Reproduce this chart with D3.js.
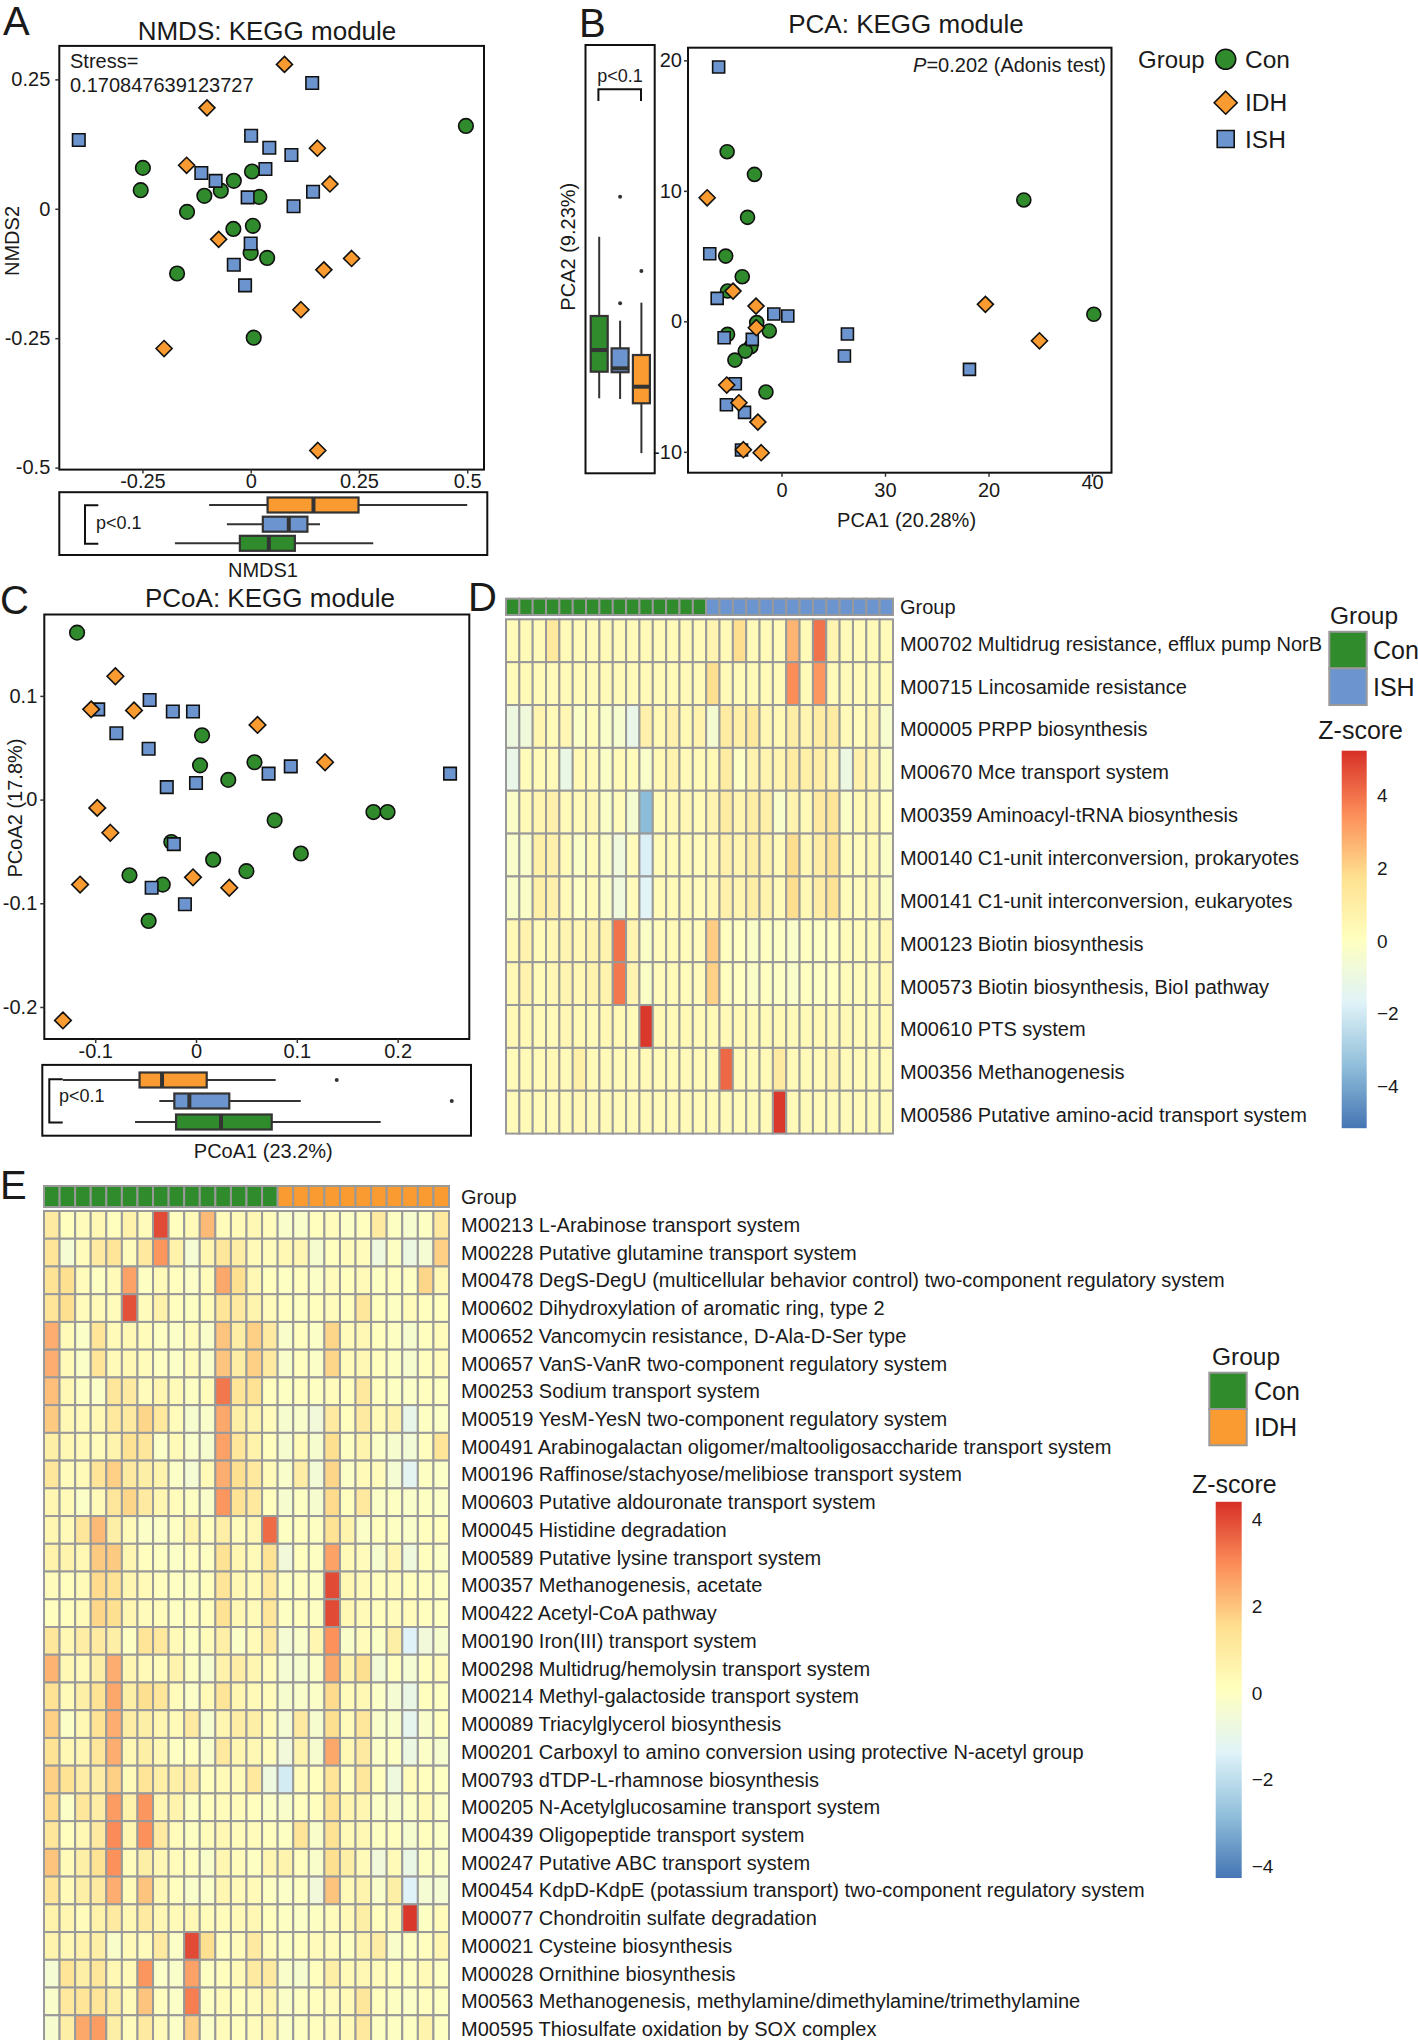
<!DOCTYPE html>
<html><head><meta charset="utf-8">
<script src="https://cdn.jsdelivr.net/npm/d3@7"></script>
<style>html,body{margin:0;padding:0;background:#fff;}svg{display:block;}</style>
</head><body>
<svg id="fig" width="1418" height="2040" xmlns="http://www.w3.org/2000/svg"></svg>
<script>
// ======================= DATA =======================
// Panel A: NMDS [NMDS1, NMDS2]
const nmdsCon = [[0.497,0.160],[-0.249,0.079],[-0.254,0.036],[0.003,0.072],[-0.039,0.054],[-0.069,0.035],[-0.107,0.025],[0.020,0.023],[-0.147,-0.006],[-0.040,-0.039],[0.005,-0.033],[0.000,-0.085],[0.038,-0.095],[-0.170,-0.125],[0.007,-0.249]];
const nmdsISH = [[0.142,0.243],[-0.397,0.133],[0.001,0.141],[0.043,0.118],[0.094,0.104],[0.034,0.077],[-0.114,0.069],[-0.081,0.054],[-0.007,0.022],[0.144,0.033],[0.099,0.005],[0.000,-0.067],[-0.039,-0.108],[-0.013,-0.148]];
const nmdsIDH = [[0.078,0.279],[-0.101,0.195],[0.154,0.117],[-0.148,0.084],[0.183,0.048],[-0.074,-0.059],[0.233,-0.096],[0.169,-0.118],[0.116,-0.195],[-0.200,-0.270],[0.155,-0.467]];
// box stats: [lower whisker, q1, median, q3, upper whisker]
const nmdsBoxIDH = [-0.096,0.039,0.145,0.249,0.500];
const nmdsBoxISH = [-0.055,0.028,0.088,0.131,0.160];
const nmdsBoxCon = [-0.175,-0.025,0.042,0.102,0.283];
const nmdsXTicks = [-0.25,0,0.25,0.5];
const nmdsXTickLabels = ["-0.25","0","0.25","0.5"];
const nmdsYTicks = [0.25,0,-0.25,-0.5];
const nmdsYTickLabels = ["0.25","0","-0.25","-0.5"];
const nmdsStress = "0.170847639123727";

// Panel B: PCA [PCA1, PCA2]
const pcaCon = [[-5.25,13.0],[-2.61,11.26],[-3.28,7.97],[-5.39,5.0],[-3.79,3.42],[-5.21,2.32],[-2.39,-0.1],[-1.18,-0.74],[-5.21,-1.0],[-2.96,-1.94],[-3.50,-2.28],[-4.50,-2.97],[-1.50,-5.42],[23.41,9.3],[30.17,0.54]];
const pcaISH = [[-6.07,19.49],[-6.93,5.18],[-6.21,1.76],[-0.74,0.56],[0.61,0.41],[-5.54,-1.26],[-2.82,-1.38],[6.37,-0.97],[6.08,-2.66],[18.16,-3.68],[-4.46,-4.78],[-5.32,-6.39],[-3.57,-6.98],[-3.86,-9.86]];
const pcaIDH = [[-7.18,9.47],[-4.68,2.32],[-2.46,1.17],[-2.43,-0.49],[19.70,1.3],[24.92,-1.49],[-5.29,-4.88],[-4.11,-6.24],[-2.28,-7.72],[-3.68,-9.84],[-1.96,-10.07]];
const pcaBoxCon = [-5.9,-3.86,-2.2,0.41,6.48];
const pcaBoxISH = [-5.95,-3.9,-3.6,-2.07,0.05];
const pcaBoxIDH = [-10.1,-6.28,-5.01,-2.58,1.43];
const pcaOutISH = [9.55,1.38];
const pcaOutIDH = [3.85];
const pcaXTicks = [0,10,20,30];
const pcaXTickLabels = ["0","30","20","40"];
const pcaYTicks = [20,10,0,-10];
const pcaYTickLabels = ["20","10","0","-10"];

// Panel C: PCoA [PCoA1, PCoA2]
const pcoaCon = [[-0.118,0.161],[0.006,0.062],[0.004,0.033],[0.058,0.036],[0.032,0.019],[0.078,-0.020],[0.176,-0.012],[0.190,-0.012],[-0.0245,-0.041],[0.017,-0.058],[0.104,-0.052],[0.050,-0.069],[-0.066,-0.073],[-0.033,-0.082],[-0.047,-0.117]];
const pcoaISH = [[-0.097,0.087],[-0.046,0.096],[-0.023,0.085],[-0.003,0.085],[-0.079,0.064],[-0.047,0.049],[0.072,0.025],[0.094,0.032],[0.252,0.025],[-0.029,0.012],[0.000,0.016],[-0.022,-0.043],[-0.044,-0.085],[-0.011,-0.101]];
const pcoaIDH = [[-0.080,0.119],[-0.104,0.087],[-0.0615,0.086],[0.061,0.072],[0.128,0.036],[-0.098,-0.008],[-0.085,-0.032],[-0.003,-0.075],[0.033,-0.085],[-0.115,-0.082],[-0.132,-0.213]];
const pcoaBoxIDH = [-0.132,-0.056,-0.0337,0.0106,0.079];
const pcoaBoxISH = [-0.0364,-0.0215,-0.0066,0.033,0.1039];
const pcoaBoxCon = [-0.0605,-0.0198,0.0248,0.0751,0.1832];
const pcoaOutIDH = [0.1396];
const pcoaOutISH = [0.2537];
const pcoaXTicks = [-0.1,0,0.1,0.2];
const pcoaXTickLabels = ["-0.1","0","0.1","0.2"];
const pcoaYTicks = [0.1,0,-0.1,-0.2];
const pcoaYTickLabels = ["0.1","0","-0.1","-0.2"];

// Panel D heatmap (Con vs ISH)
const dRows = ["M00702 Multidrug resistance, efflux pump NorB","M00715 Lincosamide resistance","M00005 PRPP biosynthesis","M00670 Mce transport system","M00359 Aminoacyl-tRNA biosynthesis","M00140 C1-unit interconversion, prokaryotes","M00141 C1-unit interconversion, eukaryotes","M00123 Biotin biosynthesis","M00573 Biotin biosynthesis, BioI pathway","M00610 PTS system","M00356 Methanogenesis","M00586 Putative amino-acid transport system"];
const dGroups = ["Con","Con","Con","Con","Con","Con","Con","Con","Con","Con","Con","Con","Con","Con","Con","ISH","ISH","ISH","ISH","ISH","ISH","ISH","ISH","ISH","ISH","ISH","ISH","ISH","ISH"];
const dValues = [
[0.3,0.3,0.3,1.3,0.3,0.3,0.3,0.3,0.3,0.3,0.3,0.3,0.3,0.3,0.3,0.6,0.3,1.8,0.3,0.3,0.3,2.7,0.3,4.0,0.6,0.3,0.3,0.3,0.3],
[0.3,0.3,0.3,0.3,0.3,0.3,0.3,0.3,0.3,0.3,0.3,0.3,0.3,0.3,0.3,1.8,0.3,0.3,0.3,0.3,0.3,3.5,0.3,3.3,0.3,0.3,0.3,0.3,0.3],
[-0.9,-0.8,0.6,0.3,0.5,-0.2,0.2,-0.3,-0.4,-1.2,0.8,0.4,0.8,0.4,0.7,-0.5,1.1,0.9,1.3,0.5,0.4,1.0,0.6,1.1,1.1,0.3,0.2,0.6,-0.4],
[-1.2,0.2,0.3,0.3,-1.1,0.4,0.3,-0.2,0.3,0.2,-0.3,0.4,0.7,0.3,0.3,0.4,1.1,-0.1,0.7,0.6,0.6,1.1,0.9,1.0,0.7,-1.0,0.8,0.6,-0.2],
[-0.2,0.3,0.6,0.8,0.3,0.3,0.5,-0.2,0.2,-0.5,-3.5,0.3,0.4,0.5,0.3,0.6,1.1,0.6,1.0,0.9,-0.3,0.7,0.3,1.2,1.5,-0.2,0.4,0.5,0.0],
[-0.3,-0.3,0.9,0.8,0.3,-0.2,0.3,-0.2,-0.8,0.2,-1.8,0.3,0.3,0.3,0.2,0.5,0.8,0.6,1.0,0.7,0.3,1.8,0.4,1.0,1.6,0.2,0.2,0.4,-0.2],
[-0.3,-0.2,0.9,0.8,0.3,-0.1,0.3,-0.2,-0.8,0.2,-1.6,0.3,0.3,0.3,0.2,0.5,0.8,0.6,1.0,0.7,0.3,1.8,0.4,1.0,1.6,0.2,0.2,0.4,-0.2],
[0.4,0.7,0.3,0.5,0.6,0.5,0.7,0.7,4.0,0.6,-0.2,0.2,0.3,0.2,0.2,2.2,0.1,0.0,-0.2,0.0,-0.1,-0.3,0.0,-0.1,0.0,0.2,0.2,0.2,0.5],
[0.4,0.7,0.3,0.5,0.6,0.5,0.7,0.7,3.9,0.6,-0.2,0.2,0.3,0.2,0.2,2.1,0.1,0.0,-0.2,0.0,-0.1,-0.3,0.0,-0.1,0.0,0.2,0.2,0.2,0.5],
[0.4,0.4,0.3,0.3,0.5,0.4,0.3,0.4,0.4,0.3,5.1,0.4,0.3,0.4,0.3,0.4,0.3,0.4,0.3,0.3,0.4,0.3,0.3,0.4,0.3,0.4,0.3,0.3,0.4],
[0.3,0.3,0.3,0.4,0.3,0.9,0.3,0.3,0.3,0.3,0.3,0.3,0.3,0.3,0.3,0.3,4.2,0.3,0.3,0.3,1.2,0.3,0.3,0.3,0.6,0.3,0.3,0.3,0.3],
[0.3,0.3,0.3,0.3,0.3,0.5,0.3,0.3,0.3,0.3,0.3,0.3,0.3,0.3,0.3,0.3,0.3,0.3,0.3,0.3,5.1,0.3,0.3,0.3,0.3,0.3,0.3,0.3,0.3]
];
const dScaleRange = [-5.15,5.24];
const dLegendTicks = [4,2,0,-2,-4];

// Panel E heatmap (Con vs IDH)
const eRows = ["M00213 L-Arabinose transport system","M00228 Putative glutamine transport system","M00478 DegS-DegU (multicellular behavior control) two-component regulatory system","M00602 Dihydroxylation of aromatic ring, type 2","M00652 Vancomycin resistance, D-Ala-D-Ser type","M00657 VanS-VanR two-component regulatory system","M00253 Sodium transport system","M00519 YesM-YesN two-component regulatory system","M00491 Arabinogalactan oligomer/maltooligosaccharide transport system","M00196 Raffinose/stachyose/melibiose transport system","M00603 Putative aldouronate transport system","M00045 Histidine degradation","M00589 Putative lysine transport system","M00357 Methanogenesis, acetate","M00422 Acetyl-CoA pathway","M00190 Iron(III) transport system","M00298 Multidrug/hemolysin transport system","M00214 Methyl-galactoside transport system","M00089 Triacylglycerol biosynthesis","M00201 Carboxyl to amino conversion using protective N-acetyl group","M00793 dTDP-L-rhamnose biosynthesis","M00205 N-Acetylglucosamine transport system","M00439 Oligopeptide transport system","M00247 Putative ABC transport system","M00454 KdpD-KdpE (potassium transport) two-component regulatory system","M00077 Chondroitin sulfate degradation","M00021 Cysteine biosynthesis","M00028 Ornithine biosynthesis","M00563 Methanogenesis, methylamine/dimethylamine/trimethylamine","M00595 Thiosulfate oxidation by SOX complex"];
const eGroups = ["Con","Con","Con","Con","Con","Con","Con","Con","Con","Con","Con","Con","Con","Con","Con","IDH","IDH","IDH","IDH","IDH","IDH","IDH","IDH","IDH","IDH","IDH"];
const eValues = [
[1.0,0.1,0.2,0.4,0.1,0.7,0.2,4.0,0.1,0.3,2.2,0.2,0.3,0.4,0.2,-0.2,-0.2,0.1,0.2,-0.1,0.1,1.0,0.0,-0.3,0.0,1.1],
[1.3,-0.4,0.2,1.0,1.3,0.2,1.1,2.8,0.7,-0.4,0.5,1.2,0.9,0.3,0.2,0.4,0.5,-0.3,0.1,0.2,0.2,-0.7,0.0,-0.8,-0.4,1.8],
[1.4,1.5,0.2,0.0,0.3,2.6,0.0,0.3,0.1,-0.1,0.2,2.5,1.5,0.4,0.1,0.0,0.1,-0.1,0.2,0.1,0.3,0.0,0.1,0.0,1.7,0.4],
[1.3,1.5,0.2,0.3,0.2,3.9,0.2,0.7,0.1,0.0,0.2,1.3,1.0,0.6,0.2,0.1,0.0,0.1,0.2,0.1,1.2,0.1,0.0,0.2,0.1,0.1],
[2.4,0.3,-0.1,1.3,0.3,0.4,0.2,0.0,-0.1,0.2,-0.2,2.0,0.9,1.8,1.0,-0.2,0.1,-0.1,1.7,0.2,0.4,0.1,0.0,-0.3,0.1,0.2],
[2.4,0.3,-0.1,1.3,0.3,0.4,0.2,0.0,-0.1,0.2,-0.2,2.0,0.9,1.8,1.0,-0.2,0.1,-0.1,1.7,0.2,0.4,0.1,0.0,-0.3,0.1,0.2],
[2.1,0.4,0.0,-0.1,1.2,1.0,0.2,0.5,0.3,0.0,0.2,3.3,1.3,1.4,0.1,0.0,0.1,0.0,0.2,0.1,1.1,0.1,0.0,-0.1,0.1,0.0],
[1.9,0.4,0.3,0.4,1.1,1.0,1.7,1.1,0.2,-0.3,-0.2,2.5,0.8,0.6,0.2,-0.3,-0.2,-0.6,1.0,0.1,1.0,0.3,0.6,-1.0,0.0,-0.1],
[0.8,0.4,0.3,0.2,0.6,1.4,1.2,-0.1,0.3,-0.2,-0.3,2.6,1.2,0.7,0.1,-0.3,0.3,-0.3,1.5,0.0,0.6,-0.1,-0.3,-0.5,0.1,1.3],
[1.2,0.2,0.3,1.3,1.8,1.0,0.8,0.6,-0.1,-0.4,0.3,2.4,1.5,1.1,0.3,-0.2,0.9,-0.5,1.7,-0.1,0.3,0.2,-0.4,-1.2,0.0,-0.1],
[0.5,0.3,-0.1,0.3,1.2,1.7,1.0,0.5,0.2,0.0,-0.2,2.8,1.4,1.1,0.1,-0.3,0.0,-0.3,1.6,0.1,1.1,-0.1,0.0,-0.2,0.0,-0.1],
[0.5,0.3,1.2,2.2,0.8,0.3,-0.1,-0.1,0.0,0.6,0.1,0.8,0.2,0.4,3.5,0.0,0.1,0.0,1.4,0.6,-0.1,0.1,0.0,-0.2,0.1,0.1],
[0.7,0.6,0.4,1.9,1.9,0.5,0.1,0.0,-0.1,0.1,0.0,1.4,0.5,0.3,1.4,-0.6,0.1,0.0,2.6,0.3,0.2,-0.3,0.5,-0.7,0.1,-0.1],
[0.2,0.1,0.3,1.6,1.4,0.5,0.3,0.1,0.0,0.0,0.1,1.3,0.4,0.3,1.1,0.0,0.1,0.0,4.0,0.4,0.3,0.1,0.2,0.1,0.1,0.0],
[0.1,0.1,0.3,1.7,1.5,0.5,0.2,0.2,0.0,0.1,0.1,1.4,0.4,0.3,1.2,0.0,0.1,0.0,4.0,0.4,0.3,0.1,0.2,0.2,0.1,0.0],
[1.2,0.4,0.9,1.0,0.8,0.0,1.3,1.1,0.3,0.0,0.2,0.8,-0.1,0.3,1.0,-0.4,-0.2,0.5,2.9,-0.2,0.2,-0.1,0.8,-1.4,-0.6,-0.3],
[2.3,0.4,0.3,0.8,2.4,0.5,0.3,0.2,0.6,0.0,-0.3,0.7,0.9,0.5,0.2,-0.4,-0.3,-0.1,2.5,0.6,1.5,-0.5,0.1,-0.4,0.1,0.2],
[1.4,0.3,0.8,1.4,2.5,0.8,1.5,1.2,0.2,-0.1,0.3,1.3,0.5,0.3,0.2,-0.3,-0.2,-0.1,1.6,0.2,0.4,-0.1,-0.4,-0.9,0.1,0.0],
[1.8,-0.1,0.4,1.4,2.4,0.9,0.8,0.5,0.3,1.0,-0.3,0.5,0.9,0.8,0.3,-0.4,1.0,-0.3,1.5,0.2,1.2,-0.2,-0.2,-1.1,-0.2,0.1],
[1.4,0.4,0.5,1.2,2.4,0.4,0.8,0.4,0.0,0.1,-0.2,1.1,0.5,0.4,0.2,-0.6,0.6,-0.3,2.5,0.4,1.0,-0.1,0.0,-0.8,-0.1,-0.3],
[1.8,1.4,0.9,0.9,1.8,0.3,1.3,0.8,0.8,0.9,0.1,0.3,0.3,1.1,-0.7,-1.6,0.2,0.1,1.3,0.1,1.2,0.1,-0.7,0.2,0.1,0.0],
[1.6,-0.1,1.2,0.9,2.7,0.7,2.8,0.5,0.6,0.0,0.1,0.2,0.2,0.1,-0.1,-0.2,0.1,0.1,1.4,0.5,0.5,-0.1,-0.2,-0.1,0.3,-0.1],
[1.2,0.1,0.4,1.0,3.0,0.5,2.9,1.0,0.2,0.0,0.2,0.4,0.2,0.2,0.1,0.0,1.3,-0.2,1.4,0.3,0.4,0.0,0.1,-0.3,0.1,-0.1],
[2.0,0.3,0.8,1.4,2.9,0.2,0.8,0.4,0.2,0.1,-0.2,0.5,0.2,0.0,0.5,0.6,0.1,-0.2,1.5,0.8,0.3,-0.6,0.3,-0.9,0.0,-0.1],
[1.3,0.3,0.8,1.0,2.4,0.3,2.0,0.4,0.1,-0.2,-0.1,0.5,0.3,0.3,0.0,-0.1,0.0,-0.6,2.0,0.3,0.6,-0.2,0.8,-1.4,-0.4,-0.4],
[0.7,0.5,0.2,0.7,1.0,0.4,1.0,0.4,0.3,0.4,0.2,0.2,0.3,0.4,0.1,0.0,-0.1,0.0,0.2,0.3,0.8,0.1,0.3,4.3,0.0,0.2],
[0.6,0.4,0.7,0.8,-0.2,0.3,0.2,1.0,-0.1,4.0,1.5,0.1,0.2,1.0,0.2,0.0,0.1,0.2,0.2,0.0,0.6,0.9,-0.2,0.0,0.1,0.5],
[-0.4,1.3,0.8,1.2,0.4,0.3,2.8,-0.1,-0.2,2.6,0.0,0.1,0.3,1.0,1.0,-0.2,-0.3,0.1,0.8,0.3,0.4,0.2,0.1,0.0,0.3,0.0],
[-0.2,1.1,1.3,1.3,0.8,0.3,2.0,0.1,-0.1,3.2,0.0,0.2,0.1,0.2,0.5,-0.1,0.0,0.1,0.2,0.3,1.2,0.1,0.0,-0.1,0.1,0.0],
[-0.3,0.8,2.5,2.7,0.8,0.2,1.0,0.3,-0.1,1.8,-0.1,0.2,0.1,0.2,0.5,-0.1,0.0,0.1,0.2,0.3,1.1,0.0,0.0,0.0,0.6,0.0]
];
const eScaleRange = [-4.26,4.41];
const eLegendTicks = [4,2,0,-2,-4];

// ======================= STYLE =======================
const FONT = "'Liberation Sans', Arial, Helvetica, sans-serif";
const INK = "#1a1a1a";
const COL = {Con:"#2F8B2C", IDH:"#F99B30", ISH:"#6C94CE"};
const RDYLBU7 = ["#4575B4","#91BFDB","#E0F3F8","#FFFFBF","#FEE090","#FC8D59","#D73027"];
const GRID = "#999999";

const svg = d3.select("#fig");
svg.append("rect").attr("width",1418).attr("height",2040).attr("fill","#fff");

function txt(g, x, y, s, o={}) {
  const t = g.append("text").attr("x",x).attr("y",y).text(s)
    .attr("font-family",FONT).attr("font-size",o.size||20).attr("fill",o.fill||INK)
    .attr("text-anchor",o.anchor||"start");
  if (o.baseline) t.attr("dominant-baseline",o.baseline);
  if (o.rotate) t.attr("transform",`rotate(${o.rotate},${x},${y})`);
  return t;
}
function shapePath(group, sz) {
  if (group==="Con") return d3.symbol(d3.symbolCircle, Math.PI*sz.r*sz.r)();
  if (group==="ISH") return d3.symbol(d3.symbolSquare, sz.s*sz.s)();
  const h = sz.d; return `M0,${-h}L${h},0L0,${h}L${-h},0Z`;
}

function scatterPanel(c) {
  const x = d3.scaleLinear().domain(c.xDomain).range([c.left,c.right]);
  const y = d3.scaleLinear().domain(c.yDomain).range([c.bottom,c.top]);
  const g = svg.append("g");
  c.series.forEach(s => {
    g.append("g").selectAll("path").data(s.data).join("path")
      .attr("d", shapePath(s.group, c.sz))
      .attr("transform", d => `translate(${x(d[0])},${y(d[1])})`)
      .attr("fill", COL[s.group]).attr("stroke","#111").attr("stroke-width",1.6);
  });
  g.append("rect").attr("x",c.left).attr("y",c.top).attr("width",c.right-c.left).attr("height",c.bottom-c.top)
    .attr("fill","none").attr("stroke","#111").attr("stroke-width",2);
  const ax = g.append("g").attr("transform",`translate(0,${c.bottom})`)
    .call(d3.axisBottom(x).tickValues(c.xTicks).tickFormat((d,i)=>c.xLabels[i]).tickSize(4).tickPadding(c.xPad));
  const ay = g.append("g").attr("transform",`translate(${c.left},0)`)
    .call(d3.axisLeft(y).tickValues(c.yTicks).tickFormat((d,i)=>c.yLabels[i]).tickSize(4).tickPadding(c.yPad));
  [ax,ay].forEach(a => {
    a.select(".domain").remove();
    a.selectAll("line").attr("stroke","#333").attr("stroke-width",1.5);
    a.selectAll("text").attr("font-family",FONT).attr("font-size",20).attr("fill",INK);
  });
  return {x,y,g,ax,ay};
}

function hBox(g, x, yc, st, color, h, outs) {
  g.append("line").attr("x1",x(st[0])).attr("x2",x(st[4])).attr("y1",yc).attr("y2",yc).attr("stroke","#333").attr("stroke-width",2);
  g.append("rect").attr("x",x(st[1])).attr("y",yc-h/2).attr("width",x(st[3])-x(st[1])).attr("height",h)
    .attr("fill",color).attr("stroke","#333").attr("stroke-width",2.2);
  g.append("line").attr("x1",x(st[2])).attr("x2",x(st[2])).attr("y1",yc-h/2).attr("y2",yc+h/2).attr("stroke","#333").attr("stroke-width",4);
  (outs||[]).forEach(v => g.append("circle").attr("cx",x(v)).attr("cy",yc).attr("r",2).attr("fill","#333"));
}
function vBox(g, y, xc, st, color, w, outs) {
  g.append("line").attr("y1",y(st[0])).attr("y2",y(st[4])).attr("x1",xc).attr("x2",xc).attr("stroke","#333").attr("stroke-width",2);
  g.append("rect").attr("y",y(st[3])).attr("x",xc-w/2).attr("height",y(st[1])-y(st[3])).attr("width",w)
    .attr("fill",color).attr("stroke","#333").attr("stroke-width",2.2);
  g.append("line").attr("y1",y(st[2])).attr("y2",y(st[2])).attr("x1",xc-w/2).attr("x2",xc+w/2).attr("stroke","#333").attr("stroke-width",4);
  (outs||[]).forEach(v => g.append("circle").attr("cy",y(v)).attr("cx",xc).attr("r",2).attr("fill","#333"));
}
function frame(g, x0, y0, x1, y1) {
  g.append("rect").attr("x",x0).attr("y",y0).attr("width",x1-x0).attr("height",y1-y0)
    .attr("fill","none").attr("stroke","#111").attr("stroke-width",2);
}
function bracket(g, d) { g.append("path").attr("d",d).attr("fill","none").attr("stroke","#111").attr("stroke-width",2); }

// ======================= PANEL A =======================
const A = scatterPanel({left:59.3,right:484,top:45.9,bottom:469.6,
  xDomain:[-0.442,0.5388], yDomain:[-0.5039,0.3147],
  xTicks:nmdsXTicks, xLabels:nmdsXTickLabels, yTicks:nmdsYTicks, yLabels:nmdsYTickLabels,
  xPad:0, yPad:5, sz:{r:7.3,s:12.5,d:8},
  series:[{group:"Con",data:nmdsCon},{group:"ISH",data:nmdsISH},{group:"IDH",data:nmdsIDH}]});
txt(A.g, 3, 35, "A", {size:40});
txt(A.g, 267, 39.5, "NMDS: KEGG module", {size:26, anchor:"middle"});
txt(A.g, 70, 60.5, "Stress=", {size:20, baseline:"central"});
txt(A.g, 70, 85, nmdsStress, {size:20, baseline:"central"});
txt(A.g, 12, 241, "NMDS2", {size:20, anchor:"middle", baseline:"central", rotate:-90});
{
  const g = svg.append("g");
  hBox(g, A.x, 505, nmdsBoxIDH, COL.IDH, 15);
  hBox(g, A.x, 524.2, nmdsBoxISH, COL.ISH, 15);
  hBox(g, A.x, 543.3, nmdsBoxCon, COL.Con, 15);
  frame(g, 59.3, 492.2, 487.3, 555);
  bracket(g, "M98.3,505.3H85V543.7H98.3");
  txt(g, 96, 523, "p<0.1", {size:18, baseline:"central"});
  txt(g, 263, 570, "NMDS1", {size:20, anchor:"middle", baseline:"central"});
}

// ======================= PANEL B =======================
const B = scatterPanel({left:688,right:1111.5,top:47.7,bottom:472.7,
  xDomain:[-9.03,31.88], yDomain:[-11.6,20.97],
  xTicks:pcaXTicks, xLabels:pcaXTickLabels, yTicks:pcaYTicks, yLabels:pcaYTickLabels,
  xPad:6, yPad:2, sz:{r:7,s:12,d:8},
  series:[{group:"Con",data:pcaCon},{group:"ISH",data:pcaISH},{group:"IDH",data:pcaIDH}]});
// the last x tick label sits higher in the original
B.ax.selectAll(".tick text").filter((d,i)=>i===pcaXTicks.length-1).attr("dy","0.3em");
txt(B.g, 579, 36.7, "B", {size:40});
txt(B.g, 906, 32.7, "PCA: KEGG module", {size:26, anchor:"middle"});
{
  const t = B.g.append("text").attr("x",1106).attr("y",65).attr("text-anchor","end").attr("dominant-baseline","central")
    .attr("font-family",FONT).attr("font-size",20).attr("fill",INK);
  t.append("tspan").attr("font-style","italic").text("P");
  t.append("tspan").text("=0.202 (Adonis test)");
  txt(B.g, 906.6, 520, "PCA1 (20.28%)", {size:20, anchor:"middle", baseline:"central"});
  const g = svg.append("g");
  vBox(g, B.y, 599.2, pcaBoxCon, COL.Con, 17);
  vBox(g, B.y, 620.1, pcaBoxISH, COL.ISH, 17, pcaOutISH);
  vBox(g, B.y, 641.4, pcaBoxIDH, COL.IDH, 17, pcaOutIDH);
  frame(g, 585.5, 45, 654.7, 473.3);
  bracket(g, "M598.4,101V89.3H641V101");
  txt(g, 620, 76, "p<0.1", {size:18, anchor:"middle", baseline:"central"});
  txt(g, 567.7, 246.7, "PCA2 (9.23%)", {size:20, anchor:"middle", baseline:"central", rotate:-90});
  // legend
  const lg = svg.append("g");
  txt(lg, 1138, 59, "Group", {size:24, baseline:"central"});
  const legendItems = [["Con",59.3],["IDH",102.7],["ISH",139]];
  legendItems.forEach(([gr,yy]) => {
    lg.append("path").attr("d", shapePath(gr,{r:10,s:17,d:11.5})).attr("transform",`translate(1225.7,${yy})`)
      .attr("fill",COL[gr]).attr("stroke","#111").attr("stroke-width",1.6);
    txt(lg, 1245, yy, gr, {size:24.5, baseline:"central"});
  });
}

// ======================= PANEL C =======================
const C = scatterPanel({left:44.3,right:469.3,top:614.5,bottom:1039,
  xDomain:[-0.1505,0.2711], yDomain:[-0.2309,0.1785],
  xTicks:pcoaXTicks, xLabels:pcoaXTickLabels, yTicks:pcoaYTicks, yLabels:pcoaYTickLabels,
  xPad:1, yPad:3, sz:{r:7.3,s:12.5,d:8.3},
  series:[{group:"Con",data:pcoaCon},{group:"ISH",data:pcoaISH},{group:"IDH",data:pcoaIDH}]});
txt(C.g, 0, 614, "C", {size:40});
txt(C.g, 270, 607, "PCoA: KEGG module", {size:26, anchor:"middle"});
txt(C.g, 15, 808, "PCoA2 (17.8%)", {size:20, anchor:"middle", baseline:"central", rotate:-90});
{
  const g = svg.append("g");
  hBox(g, C.x, 1080, pcoaBoxIDH, COL.IDH, 15, pcoaOutIDH);
  hBox(g, C.x, 1101, pcoaBoxISH, COL.ISH, 15, pcoaOutISH);
  hBox(g, C.x, 1122, pcoaBoxCon, COL.Con, 15);
  frame(g, 42.3, 1064.9, 471, 1135.7);
  bracket(g, "M62.7,1079.2H49.3V1122.5H62.7");
  txt(g, 59, 1096, "p<0.1", {size:18, baseline:"central"});
  txt(g, 263.3, 1150.7, "PCoA1 (23.2%)", {size:20, anchor:"middle", baseline:"central"});
}

// ======================= HEATMAPS =======================
function ramp(lo, hi) {
  return d3.scaleLinear().domain(RDYLBU7.map((c,i)=>lo+(hi-lo)*i/6)).range(RDYLBU7).clamp(true);
}
function heatmap(c) {
  const nR = c.values.length, nC = c.values[0].length;
  const x = d3.scaleBand().domain(d3.range(nC)).range([c.left,c.right]);
  const y = d3.scaleBand().domain(d3.range(nR)).range([c.top,c.bottom]);
  const color = ramp(c.range[0], c.range[1]);
  const g = svg.append("g");
  g.append("g").selectAll("rect").data(c.groups).join("rect")
    .attr("x",(d,i)=>x(i)).attr("y",c.barTop).attr("width",x.bandwidth()).attr("height",c.barH)
    .attr("fill",d=>COL[d]).attr("stroke",GRID).attr("stroke-width",2);
  c.values.forEach((row,r) => {
    g.append("g").selectAll("rect").data(row).join("rect")
      .attr("x",(d,i)=>x(i)).attr("y",y(r)).attr("width",x.bandwidth()).attr("height",y.bandwidth())
      .attr("fill",d=>color(d)).attr("stroke",GRID).attr("stroke-width",2);
  });
  txt(g, c.labelX, c.barTop + c.barH/2, "Group", {size:20, baseline:"central"});
  c.rows.forEach((lab,r) => txt(g, c.labelX, y(r)+y.bandwidth()/2 + (c.labelDy||0), lab, {size:20, baseline:"central"}));
  return g;
}
function groupLegend(c) {
  const g = svg.append("g");
  txt(g, c.titleX, c.titleY, "Group", {size:24.5, baseline:"central"});
  c.items.forEach((it,i) => {
    g.append("rect").attr("x",c.x).attr("y",c.y + i*c.h).attr("width",c.w).attr("height",c.h)
      .attr("fill",COL[it]).attr("stroke",GRID).attr("stroke-width",2);
    txt(g, c.labelX, c.y + i*c.h + c.h/2, it, {size:25, baseline:"central"});
  });
}
let gradCount = 0;
function colorLegend(c) {
  const g = svg.append("g");
  const id = "grad" + (gradCount++);
  const lg = svg.append("defs").append("linearGradient").attr("id",id)
    .attr("x1",0).attr("y1",1).attr("x2",0).attr("y2",0);
  RDYLBU7.forEach((col,i) => lg.append("stop").attr("offset",(i/6*100)+"%").attr("stop-color",col));
  txt(g, c.titleX, c.titleY, "Z-score", {size:25, baseline:"central"});
  g.append("rect").attr("x",c.x).attr("y",c.top).attr("width",c.w).attr("height",c.bottom-c.top).attr("fill",`url(#${id})`);
  const y = d3.scaleLinear().domain(c.range).range([c.bottom,c.top]);
  c.ticks.forEach(t => txt(g, c.labelX, y(t), (t<0?"\u2212":"")+Math.abs(t), {size:19, baseline:"central"}));
}

// Panel D
heatmap({left:506,right:893,top:619.3,bottom:1133.6,barTop:598.6,barH:16.4,labelX:900,labelDy:3,
  values:dValues, groups:dGroups, rows:dRows, range:dScaleRange});
txt(svg, 468, 611, "D", {size:40});
groupLegend({titleX:1330,titleY:615.7,x:1329.3,y:631.8,w:37.4,h:36.6,labelX:1373,items:["Con","ISH"]});
colorLegend({titleX:1318.3,titleY:730,x:1341.7,w:25,top:750.7,bottom:1128.2,range:dScaleRange,ticks:dLegendTicks,labelX:1377});

// Panel E
heatmap({left:44,right:449,top:1211,bottom:2043,barTop:1186,barH:21,labelX:461,labelDy:0,
  values:eValues, groups:eGroups, rows:eRows, range:eScaleRange});
txt(svg, 0, 1199, "E", {size:40});
groupLegend({titleX:1212,titleY:1356.4,x:1209.3,y:1372.7,w:37.4,h:36.3,labelX:1254,items:["Con","IDH"]});
colorLegend({titleX:1192,titleY:1483.6,x:1215.7,w:26,top:1501.8,bottom:1878,range:eScaleRange,ticks:eLegendTicks,labelX:1251.7});
</script></body></html>
